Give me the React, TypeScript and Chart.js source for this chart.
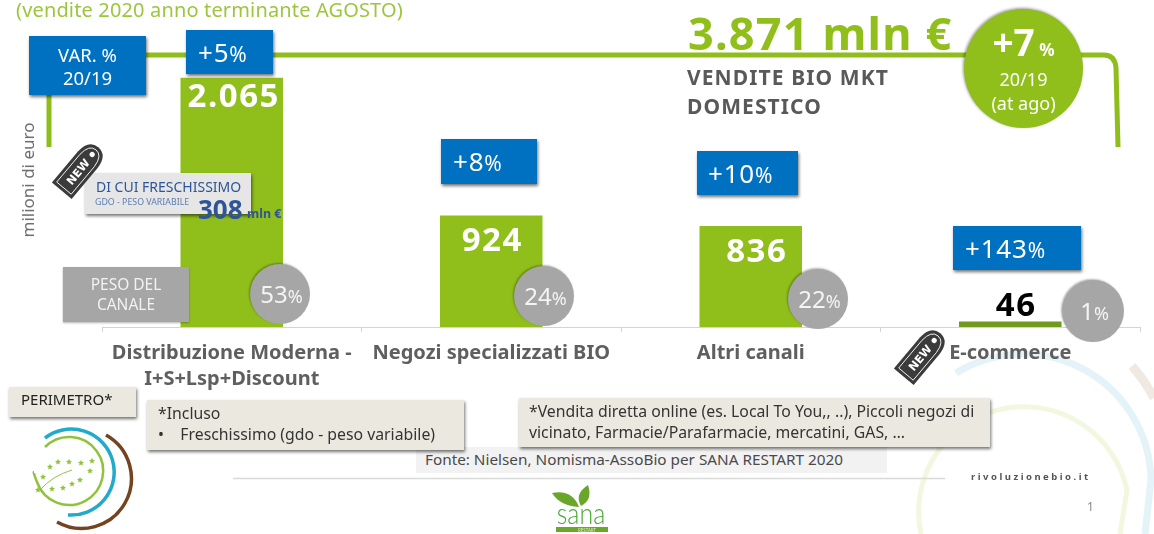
import React, { useEffect, useRef } from "react";
import { Chart, registerables } from "chart.js";

Chart.register(...registerables);

const categories = [
  ["Distribuzione Moderna -", "I+S+Lsp+Discount"],
  ["Negozi specializzati BIO"],
  ["Altri canali"],
  ["E-commerce"],
];
const salesValues = [2065, 924, 836, 46];
const salesLabels = ["2.065", "924", "836", "46"];
const variationLabels = ["+5", "+8", "+10", "+143"];
const shareLabels = ["53", "24", "22", "1"];

const GREEN = "#90bf1b";
const DARK_GREEN = "#6f9a1e";
const BLUE = "#0070c0";
const GREY = "#a6a6a6";
const BEIGE = "#ebe9df";
const FONT = "'Noto Sans', sans-serif";
const boxShadow = "1px 2px 3px rgba(0,0,0,0.55)";

const barColors = [GREEN, GREEN, GREEN, DARK_GREEN];
const labelColors = ["#ffffff", "#ffffff", "#ffffff", "#000000"];
const labelShift = [[2, 20], [1, 26], [6, 27], [6, -15]];
const varBoxes = [
  { l: 186, t: 30, w: 87, h: 44, px: 12 },
  { l: 441, t: 139, w: 96, h: 45, px: 12 },
  { l: 697, t: 151, w: 101, h: 44, px: 11 },
  { l: 953, t: 226, w: 128, h: 44, px: 12 },
];
const shareCircles = [
  { x: 280, y: 294, r: 30 },
  { x: 544, y: 296, r: 30 },
  { x: 818, y: 299, r: 30 },
  { x: 1093, y: 311, r: 31 },
];

const valueLabelPlugin = {
  id: "valueLabels",
  afterDatasetsDraw(chart: any) {
    const { ctx } = chart;
    const bars = chart.getDatasetMeta(0).data;
    ctx.save();
    ctx.font = "bold 33px 'Noto Sans', sans-serif";
    ctx.letterSpacing = "1.5px";
    ctx.textAlign = "center";
    ctx.textBaseline = "middle";
    bars.forEach((bar: any, i: number) => {
      ctx.fillStyle = labelColors[i];
      ctx.fillText(salesLabels[i], bar.x + labelShift[i][0], bar.y + labelShift[i][1]);
    });
    ctx.restore();
  },
};

function Box({ s, children }: { s: React.CSSProperties; children?: React.ReactNode }) {
  return <div style={{ position: "absolute", boxSizing: "border-box", ...s }}>{children}</div>;
}

function Tag({ x, y }: { x: number; y: number }) {
  return (
    <g transform={`translate(${x} ${y}) rotate(-50) scale(0.86)`}>
      <path d="M-33,-15 L14,-15 Q33,-14 33,0 Q33,14 14,15 L-33,15 Z" fill="#3b3b3b" />
      <path d="M-29,-11 L13,-11 Q29,-10 29,0 Q29,10 13,11 L-29,11 Z" fill="none" stroke="#ffffff" strokeWidth="1" />
      <circle cx="22" cy="0" r="3" fill="#ffffff" />
      <text x="-4" y="5" textAnchor="middle" fontFamily="'DejaVu Sans'" fontWeight="bold" fontSize="13" fill="#ffffff">NEW</text>
    </g>
  );
}

function starPoints(cx: number, cy: number, r: number) {
  const pts: string[] = [];
  for (let i = 0; i < 10; i++) {
    const a = -Math.PI / 2 + (i * Math.PI) / 5;
    const rr = i % 2 ? r * 0.45 : r;
    pts.push(`${cx + rr * Math.cos(a)},${cy + rr * Math.sin(a)}`);
  }
  return pts.join(" ");
}
const logoStars = [[50, 467], [58, 462], [69, 462], [81, 463], [92, 461], [90, 471], [80, 480], [72, 484], [63, 488], [52, 489], [43, 477], [38, 490]];

function Background() {
  return (
    <svg width="1154" height="534" style={{ position: "absolute", left: 0, top: 0 }}>
      {/* faint rings */}
      <path d="M921,534 A104,104 0 1 1 1127,490 L1120,534" fill="none" stroke="#f2f7df" strokeWidth="5" />
      <path d="M956,373 A128,128 0 0 1 1151,480 L1145,534" fill="none" stroke="#e3f3f8" strokeWidth="7" />
      <path d="M1132,366 A157,157 0 0 1 1154,398" fill="none" stroke="#efe9e2" strokeWidth="9" />
      {/* frame line */}
      <path d="M49,147 L49,55 L1104,55 Q1115,55 1116,68 L1118,147" fill="none" stroke="#8fbe1c" strokeWidth="5" />
      {/* footer rule */}
      <line x1="233" y1="478.500" x2="945" y2="478.500" stroke="#d9d9d9" strokeWidth="1.500" />
    </svg>
  );
}

function Foreground() {
  return (
    <svg width="1154" height="534" style={{ position: "absolute", left: 0, top: 0, pointerEvents: "none" }}>
      <Tag x={80} y={169} />
      <Tag x={922} y={355} />
      {/* organic logo */}
      <path d="M106,435 A47,47 0 0 1 57,522" fill="none" stroke="#744320" strokeWidth="3.500" />
      <path d="M45,438 A43,43 0 1 1 68,515" fill="none" stroke="#22aacb" strokeWidth="3.500" />
      <path d="M45,447 A34,34 0 1 1 37,482 Q33,472 34,472" fill="none" stroke="#8fc43a" strokeWidth="2.500" />
      <path d="M40,490 Q52,476 72,470" fill="none" stroke="#8fc43a" strokeWidth="1" />
      {logoStars.map(([cx, cy], i) => (
        <polygon key={i} points={starPoints(cx, cy, 3.200)} fill="#8fc43a" />
      ))}
      {/* sana logo */}
      <path d="M579,507 Q560,506 552,493 Q572,489 579,507 Z" fill="#6aa62a" />
      <path d="M581,506 Q574,494 588,485 Q593,500 581,506 Z" fill="#6aa62a" />
      <text transform="translate(581 524) scale(0.86 1)" textAnchor="middle" fontFamily="Lato, sans-serif" fontWeight="300" fontSize="29" fill="#48a838">sana</text>
      <rect x="556" y="527" width="52" height="5" fill="#6aa62a" />
      <text x="587" y="531.500" textAnchor="middle" fontFamily="'Noto Sans'" fontSize="4.500" fill="#dff0c8">RESTART</text>
    </svg>
  );
}

export default function App() {
  const ref = useRef<HTMLCanvasElement>(null);

  useEffect(() => {
    const chart = new Chart(ref.current as HTMLCanvasElement, {
      type: "bar",
      data: {
        labels: categories,
        datasets: [
          {
            data: salesValues,
            backgroundColor: barColors,
            barPercentage: 1,
            categoryPercentage: 0.395,
          },
        ],
      },
      options: {
        animation: false,
        responsive: false,
        layout: { padding: { left: 102, right: 14, top: 1, bottom: 0 } },
        plugins: { legend: { display: false }, tooltip: { enabled: false } },
        scales: {
          y: { display: false, min: 0, max: 2700 },
          x: {
            afterFit(scale: any) {
              scale.height = 207;
            },
            border: { color: "#d4d4d4" },
            grid: { drawOnChartArea: false, drawTicks: true, tickLength: 5, color: "#d4d4d4" },
            ticks: {
              autoSkip: false,
              maxRotation: 0,
              padding: 9,
              color: "#5f5f5f",
              font: { family: "'Noto Sans', sans-serif", weight: "bold", size: 20, lineHeight: 1.27 },
            },
          },
        },
      },
      plugins: [valueLabelPlugin],
    } as any);
    return () => chart.destroy();
  }, []);

  return (
    <div style={{ position: "absolute", left: 0, top: 0, width: 1154, height: 534, overflow: "hidden", background: "#fff", fontFamily: FONT }}>
      <Background />
      <canvas ref={ref} width={1154} height={534} style={{ position: "absolute", left: 0, top: 0 }} />

      <Box s={{ left: 16, top: -4, fontSize: 20, color: "#9cc63c", whiteSpace: "nowrap", letterSpacing: 0.15 }}>
        (vendite 2020 anno terminante AGOSTO)
      </Box>

      <Box s={{ left: 29, top: 36, width: 117, height: 59, background: BLUE, color: "#fff", fontSize: 18.500, lineHeight: "23px", textAlign: "center", paddingTop: 7, boxShadow }}>
        VAR. %<br />20/19
      </Box>
      {varBoxes.map((b, i) => (
        <Box key={i} s={{ left: b.l, top: b.t, width: b.w, height: b.h, background: BLUE, color: "#fff", fontSize: 26, letterSpacing: 0.8, lineHeight: `${b.h}px`, paddingLeft: b.px, boxShadow, whiteSpace: "nowrap" }}>
          {variationLabels[i]}
          <span style={{ fontSize: 21 }}>%</span>
        </Box>
      ))}

      <Box s={{ left: 688, top: 1, fontSize: 45, fontWeight: 700, color: GREEN, whiteSpace: "nowrap", lineHeight: "64px", letterSpacing: 1.2 }}>3.871 mln €</Box>
      <Box s={{ left: 687, top: 63, fontSize: 21, fontWeight: 700, color: "#595959", lineHeight: "29px", letterSpacing: 1.1, whiteSpace: "nowrap" }}>
        VENDITE BIO MKT<br />DOMESTICO
      </Box>

      <Box s={{ left: 964, top: 9, width: 119, height: 119, borderRadius: "50%", background: GREEN, color: "#fff", textAlign: "center", boxShadow: "-1px -1px 3px rgba(0,0,0,0.4)" }}>
        <div style={{ fontSize: 37, fontWeight: 700, lineHeight: "40px", marginTop: 13 }}>
          +7<span style={{ fontSize: 17 }}> %</span>
        </div>
        <div style={{ fontSize: 18, lineHeight: "24px", marginTop: -3 }}>20/19<br />(at ago)</div>
      </Box>

      <Box s={{ left: 12, top: 180, width: 30, height: 0, transform: "rotate(-90deg)", color: "#6f6f6f", fontSize: 17, whiteSpace: "nowrap", display: "flex", justifyContent: "center", alignItems: "center" }}>
        milioni di euro
      </Box>

      <Box s={{ left: 85, top: 173, width: 166, height: 41, background: "#e6e6e6", boxShadow }} />
      <Box s={{ left: 96, top: 177, color: "#2f5597", fontSize: 14, whiteSpace: "nowrap", lineHeight: "20px" }}>DI CUI FRESCHISSIMO</Box>
      <Box s={{ left: 95, top: 196, color: "#5b7db1", fontSize: 8.800, whiteSpace: "nowrap", lineHeight: "12px" }}>GDO - PESO VARIABILE</Box>
      <Box s={{ left: 198, top: 192, color: "#2f5597", fontSize: 26, fontWeight: 700, whiteSpace: "nowrap", lineHeight: "34px" }}>308</Box>
      <Box s={{ left: 247, top: 206, color: "#2f5597", fontSize: 12.500, fontWeight: 700, whiteSpace: "nowrap", lineHeight: "16px" }}>mln €</Box>

      <Box s={{ left: 63, top: 267, width: 126, height: 55, background: GREY, color: "#f2f2f2", fontSize: 15.500, lineHeight: "20px", textAlign: "center", paddingTop: 7, boxShadow: "0 1px 2px rgba(0,0,0,0.3)" }}>
        PESO DEL<br />CANALE
      </Box>

      {shareCircles.map((c, i) => (
        <Box key={i} s={{ left: c.x - c.r, top: c.y - c.r, width: c.r * 2, height: c.r * 2, borderRadius: "50%", background: GREY, color: "#f4f4f4", textAlign: "center", lineHeight: `${c.r * 2}px`, fontSize: 24, paddingLeft: 3, whiteSpace: "nowrap", boxShadow: "-1px -1px 2px rgba(0,0,0,0.3)" }}>
          {shareLabels[i]}
          <span style={{ fontSize: 18 }}>%</span>
        </Box>
      ))}

      <Box s={{ left: 416, top: 447, width: 471, height: 26, background: "#f2f2f2", color: "#4a4a4a", fontSize: 15.300, lineHeight: "25px", paddingLeft: 9, whiteSpace: "nowrap" }}>
        Fonte: Nielsen, Nomisma-AssoBio per SANA RESTART 2020
      </Box>

      <Box s={{ left: 9, top: 387, width: 127, height: 30, background: BEIGE, color: "#222", fontSize: 15, lineHeight: "24px", paddingLeft: 12, boxShadow }}>PERIMETRO*</Box>
      <Box s={{ left: 147, top: 400, width: 317, height: 50, background: BEIGE, color: "#333", fontSize: 15.800, lineHeight: "21px", padding: "3px 11px", boxShadow, whiteSpace: "nowrap" }}>
        *Incluso<br />•&nbsp;&nbsp;&nbsp;&nbsp;Freschissimo (gdo - peso variabile)
      </Box>
      <Box s={{ left: 519, top: 398, width: 471, height: 49, background: BEIGE, color: "#333", fontSize: 15.800, lineHeight: "21px", padding: "3px 10px", boxShadow, whiteSpace: "nowrap" }}>
        *Vendita diretta online (es. Local To You,, ..), Piccoli negozi di<br />vicinato, Farmacie/Parafarmacie, mercatini, GAS, …
      </Box>

      <Box s={{ left: 971, top: 470, color: "#555", fontSize: 9.500, fontWeight: 700, letterSpacing: 2.500, whiteSpace: "nowrap", lineHeight: "14px" }}>rivoluzionebio.it</Box>
      <Box s={{ left: 1087, top: 498, color: "#8a8a8a", fontSize: 12, lineHeight: "18px" }}>1</Box>

      <Foreground />
    </div>
  );
}
